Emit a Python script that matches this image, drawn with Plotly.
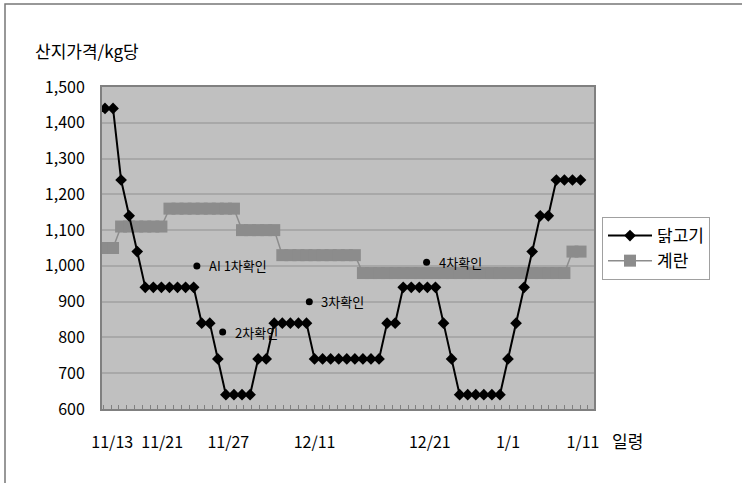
import plotly.graph_objects as go

# Daily producer prices (won per kg) over the outbreak period
day_index = list(range(60))
chicken = [1440, 1440, 1240, 1140, 1040,
           940, 940, 940, 940, 940, 940, 940,
           840, 840, 740,
           640, 640, 640, 640,
           740, 740,
           840, 840, 840, 840, 840,
           740, 740, 740, 740, 740, 740, 740, 740, 740,
           840, 840,
           940, 940, 940, 940, 940,
           840, 740,
           640, 640, 640, 640, 640, 640,
           740, 840, 940, 1040,
           1140, 1140,
           1240, 1240, 1240, 1240]
egg = [1050, 1050,
       1110, 1110, 1110, 1110, 1110, 1110,
       1160, 1160, 1160, 1160, 1160, 1160, 1160, 1160, 1160,
       1100, 1100, 1100, 1100, 1100,
       1030, 1030, 1030, 1030, 1030, 1030, 1030, 1030, 1030, 1030,
       980, 980, 980, 980, 980, 980, 980, 980, 980, 980, 980, 980, 980,
       980, 980, 980, 980, 980, 980, 980, 980, 980, 980, 980, 980, 980,
       1040, 1040]

# Date labels along the age axis
tick_pos = [0.9, 7.1, 15.3, 26.0, 40.3, 50.0, 59.3]
tick_text = ["11/13", "11/21", "11/27", "12/11", "12/21", "1/1", "1/11"]
y_ticks = [600, 700, 800, 900, 1000, 1100, 1200, 1300, 1400, 1500]

# AI confirmation events
event_x = [11.4, 14.6, 25.35, 39.9]
event_y = [1000, 815, 900, 1010]
event_text = ["AI 1차확인", "2차확인", "3차확인", "4차확인"]

FONT = "Noto Sans CJK KR"
PL, PR, PT, PB = 102, 594, 87, 409
W, H = 742, 483


def px_x(p):
    return (p - PL) / (PR - PL)


def px_y(p):
    return (PB - p) / (PB - PT)


fig = go.Figure()

fig.add_trace(go.Scatter(
    x=day_index, y=egg, name="계란", mode="lines+markers",
    line=dict(color="#8c8c8c", width=1.5),
    marker=dict(symbol="square", size=12, color="#8c8c8c"),
    hoverinfo="skip",
))
fig.add_trace(go.Scatter(
    x=day_index, y=chicken, name="닭고기", mode="lines+markers",
    line=dict(color="#000000", width=2),
    marker=dict(symbol="diamond", size=9, color="#000000"),
    hoverinfo="skip",
))
fig.add_trace(go.Scatter(
    x=event_x, y=event_y, mode="markers",
    marker=dict(symbol="circle", size=7, color="#000000"),
    showlegend=False, hoverinfo="skip", cliponaxis=False,
))

annotations = [
    dict(text=t, x=xv, y=yv, xref="x", yref="y", xanchor="left",
         yanchor="middle", xshift=10, showarrow=False,
         font=dict(family=FONT, size=13, color="#000000"))
    for xv, yv, t in zip(event_x, event_y, event_text)
]
annotations += [
    dict(text="산지가격/kg당", xref="paper", yref="paper",
         x=px_x(33), y=px_y(50), xanchor="left", yanchor="middle",
         showarrow=False, font=dict(size=17)),
    dict(text="일령", xref="paper", yref="paper",
         x=px_x(610), y=px_y(440), xanchor="left", yanchor="middle",
         showarrow=False, font=dict(size=17)),
]

fig.update_layout(
    width=W, height=H,
    margin=dict(l=PL, r=W - PR, t=PT, b=H - PB),
    paper_bgcolor="#ffffff",
    plot_bgcolor="#c0c0c0",
    font=dict(family=FONT, size=16, color="#000000"),
    legend=dict(
        x=px_x(602), y=px_y(217), xanchor="left", yanchor="top",
        bgcolor="#ffffff", bordercolor="#a0a0a0", borderwidth=1,
        font=dict(family=FONT, size=17),
        traceorder="reversed", itemwidth=44,
    ),
    xaxis=dict(
        range=[-0.37, 60.67],
        tickvals=tick_pos, ticktext=tick_text,
        ticks="", ticklabelstandoff=18,
        showgrid=False, zeroline=False,
        showline=True, linecolor="#808080", linewidth=2, mirror=True,
        minor=dict(ticks="inside", ticklen=4, tickcolor="#808080",
                   tick0=0.75, dtick=0.97, showgrid=False),
        tickfont=dict(size=16),
    ),
    yaxis=dict(
        range=[600, 1500],
        tickvals=y_ticks, tickformat=",d",
        ticks="", ticklabelstandoff=12,
        showgrid=True, gridcolor="#a8a8a8", gridwidth=1.5,
        zeroline=False,
        showline=True, linecolor="#808080", linewidth=2, mirror=True,
        tickfont=dict(size=16),
    ),
    annotations=annotations,
    shapes=[
        dict(type="rect", xref="paper", yref="paper",
             x0=px_x(5), y0=px_y(600), x1=px_x(900), y1=px_y(4),
             line=dict(color="#777777", width=1.5), layer="below"),
    ],
)

fig.write_html("out.html")
